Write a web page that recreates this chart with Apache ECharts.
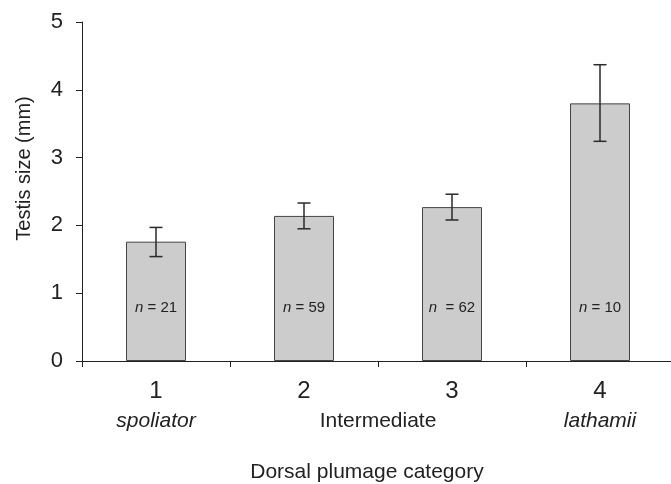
<!DOCTYPE html>
<html>
<head>
<meta charset="utf-8">
<script src="https://cdn.jsdelivr.net/npm/echarts@6/dist/echarts.min.js"></script>
<style>
html,body{margin:0;padding:0;background:#fff;}
#chart{width:671px;height:484px;}
</style>
</head>
<body>
<div id="chart"></div>
<script>
// ---- data ----
var categories = ['1', '2', '3', '4'];
var groupNames = ['spoliator', 'Intermediate', '', 'lathamii'];
var means = [1.76, 2.14, 2.27, 3.80];
var errLow = [1.54, 1.95, 2.08, 3.24];
var errHigh = [1.97, 2.33, 2.46, 4.37];
var sampleSizes = ['21', '59', '62', '10'];
var yTicks = [0, 1, 2, 3, 4, 5];

var FONT = '"Liberation Sans", Arial, Helvetica, sans-serif';
var chart = echarts.init(document.getElementById('chart'), null, {renderer: 'canvas'});

var option = {
  backgroundColor: '#ffffff',
  animation: false,
  grid: {left: 82, top: 22, width: 592, height: 339, containLabel: false, outerBoundsMode: 'none'},
  xAxis: {
    type: 'category',
    data: categories,
    name: 'Dorsal plumage category',
    nameLocation: 'middle',
    nameGap: 101,
    nameTextStyle: {fontFamily: FONT, fontSize: 21, color: '#222', padding: [0, 22, 0, 0]},
    axisLine: {lineStyle: {color: '#222', width: 1}},
    axisTick: {show: true, length: 6, inside: false, alignWithLabel: false, lineStyle: {color: '#222'}},
    axisLabel: {
      margin: 15,
      interval: 0,
      formatter: function (v, i) {
        var g = groupNames[i];
        if (i === 1) return '{d|' + v + '}\n{sm|' + g + '}';
        if (!g) return '{d|' + v + '}\n{s| }';
        return '{d|' + v + '}\n{si|' + g + '}';
      },
      rich: {
        d: {fontFamily: FONT, fontSize: 24, color: '#222', lineHeight: 30, align: 'center'},
        s: {fontFamily: FONT, fontSize: 21, color: '#222', lineHeight: 30, align: 'center'},
        sm: {fontFamily: FONT, fontSize: 21, color: '#222', lineHeight: 30, align: 'center', padding: [0, 0, 0, 148]},
        si: {fontFamily: FONT, fontSize: 21, color: '#222', lineHeight: 30, fontStyle: 'italic', align: 'center'}
      }
    },
    splitLine: {show: false}
  },
  yAxis: {
    type: 'value',
    min: 0, max: 5, interval: 1,
    name: 'Testis size (mm)',
    nameLocation: 'middle',
    nameGap: 48,
    nameTextStyle: {fontFamily: FONT, fontSize: 20, color: '#222', padding: [0, 0, 0, 46]},
    axisLine: {show: true, lineStyle: {color: '#222', width: 1}},
    axisTick: {show: true, length: 6, inside: false, lineStyle: {color: '#222'}},
    axisLabel: {
      margin: 19,
      fontFamily: FONT, fontSize: 22, color: '#222',
      formatter: function (v) { return yTicks.indexOf(v) >= 0 ? String(v) : ''; }
    },
    splitLine: {show: false}
  },
  series: [
    {
      type: 'bar',
      data: means,
      barWidth: 60,
      itemStyle: {color: '#cccccc', borderColor: '#444444', borderWidth: 1},
      label: {
        show: true,
        position: 'insideBottom',
        distance: 46,
        formatter: function (p) {
          var gap = p.dataIndex === 2 ? '  = ' : ' = ';
          return '{i|n}{t|' + gap + sampleSizes[p.dataIndex] + '}';
        },
        rich: {
          i: {fontFamily: FONT, fontSize: 15, fontStyle: 'italic', color: '#222'},
          t: {fontFamily: FONT, fontSize: 15, color: '#222'}
        }
      },
      z: 2
    },
    {
      type: 'custom',
      z: 5,
      data: means.map(function (m, i) { return [i, errLow[i], errHigh[i]]; }),
      renderItem: function (params, api) {
        var x = api.value(0);
        var lo = api.coord([x, api.value(1)]);
        var hi = api.coord([x, api.value(2)]);
        var w = 6.5;
        var style = {stroke: '#2a2a2a', lineWidth: 1.5, fill: null};
        return {
          type: 'group',
          children: [
            {type: 'line', shape: {x1: hi[0], y1: hi[1], x2: lo[0], y2: lo[1]}, style: style},
            {type: 'line', shape: {x1: hi[0] - w, y1: hi[1], x2: hi[0] + w, y2: hi[1]}, style: style},
            {type: 'line', shape: {x1: lo[0] - w, y1: lo[1], x2: lo[0] + w, y2: lo[1]}, style: style}
          ]
        };
      }
    }
  ]
};
chart.setOption(option);
</script>
</body>
</html>
